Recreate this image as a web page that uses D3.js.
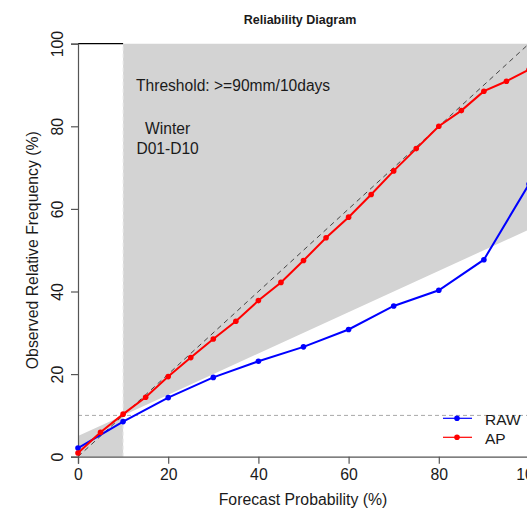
<!DOCTYPE html>
<html>
<head>
<meta charset="utf-8">
<script src="https://cdn.jsdelivr.net/npm/d3@7"></script>
<style>
  html, body { margin: 0; padding: 0; background: #fff; }
  svg { display: block; }
  text { font-family: "Liberation Sans", Arial, sans-serif; fill: #1a1a1a; }
</style>
</head>
<body>
<div id="chart"></div>
<script>
// Forecast probability bins (%) and observed relative frequency (%)
const rawProb = [0, 10, 20, 30, 40, 50, 60, 70, 80, 90, 100];
const rawFreq = [2.1, 8.5, 14.3, 19.2, 23.1, 26.6, 30.8, 36.5, 40.3, 47.7, 66.0];

const apProb = [0, 5, 10, 15, 20, 25, 30, 35, 40, 45, 50, 55, 60, 65, 70, 75, 80, 85, 90, 95, 100];
const apFreq = [0.9, 5.9, 10.3, 14.4, 19.4, 24.0, 28.5, 32.8, 37.8, 42.2, 47.5, 53.0, 58.0, 63.5, 69.2, 74.6, 80.0, 83.8, 88.5, 90.9, 93.7];

const climatology = 10;            // sample climatology (%)
const xTicks = [0, 20, 40, 60, 80, 100];
const yTicks = [0, 20, 40, 60, 80, 100];

const seriesNames = ["RAW", "AP"];
const seriesColors = ["#0000ff", "#ff0000"];

const W = 527, H = 508;
const svg = d3.select("#chart").append("svg").attr("width", W).attr("height", H);

const x = d3.scaleLinear().domain([0, 100]).range([78, 529]);
const y = d3.scaleLinear().domain([0, 100]).range([456.7, 43.7]);

// Skill region: below the no-skill line left of climatology, above it to the right
const noSkill = p => (p + climatology) / 2;
const skillPoly = [
  [0, 0], [0, noSkill(0)], [climatology, climatology], [climatology, 100],
  [100, 100], [100, noSkill(100)], [climatology, climatology], [climatology, 0]
];
svg.append("path")
  .attr("d", d3.line().x(d => x(d[0])).y(d => y(d[1]))(skillPoly) + "Z")
  .attr("fill", "#d3d3d3")
  .attr("stroke", "none");

// Climatology reference lines
svg.append("line")
  .attr("x1", x(climatology)).attr("x2", x(climatology))
  .attr("y1", y(0)).attr("y2", y(100))
  .attr("stroke", "#e8e8e8").attr("stroke-width", 1).attr("stroke-dasharray", "4,3");
svg.append("line")
  .attr("x1", x(0)).attr("x2", x(100))
  .attr("y1", y(climatology)).attr("y2", y(climatology))
  .attr("stroke", "#a8a8a8").attr("stroke-width", 1).attr("stroke-dasharray", "4,3");

// Top edge of the unshaded corner
svg.append("line")
  .attr("x1", x(0)).attr("x2", x(climatology))
  .attr("y1", y(100)).attr("y2", y(100))
  .attr("stroke", "#000").attr("stroke-width", 1.2);

// Perfect-reliability diagonal
svg.append("line")
  .attr("x1", x(0)).attr("y1", y(0))
  .attr("x2", x(100)).attr("y2", y(100))
  .attr("stroke", "#444").attr("stroke-width", 1).attr("stroke-dasharray", "5,4");

// Axes
const xAxis = svg.append("g")
  .attr("transform", `translate(0,${y(0)})`)
  .call(d3.axisBottom(x).tickValues(xTicks).tickSize(7).tickPadding(7).tickFormat(d3.format("d")));
xAxis.selectAll("text").attr("font-size", "15.8px").attr("dy", "0").attr("y", 23.5);

const yAxis = svg.append("g")
  .attr("transform", `translate(${x(0)},0)`)
  .call(d3.axisLeft(y).tickValues(yTicks).tickSize(7).tickFormat(d3.format("d")));
yAxis.selectAll("text")
  .attr("font-size", "15.8px")
  .attr("text-anchor", "middle")
  .attr("transform", "rotate(-90)")
  .attr("x", 0).attr("dy", "0").attr("y", -14.7);

[xAxis, yAxis].forEach(g => {
  g.select(".domain").attr("stroke", "#555").attr("stroke-width", 1.2);
  g.selectAll(".tick line").attr("stroke", "#555").attr("stroke-width", 1.2);
  g.selectAll("text").attr("fill", "#1a1a1a").attr("font-family", "Liberation Sans, Arial, sans-serif");
});

// Series
const series = [
  { name: seriesNames[0], color: seriesColors[0], data: rawProb.map((p, i) => [p, rawFreq[i]]) },
  { name: seriesNames[1], color: seriesColors[1], data: apProb.map((p, i) => [p, apFreq[i]]) }
];
svg.append("clipPath").attr("id", "plotclip")
  .append("rect").attr("x", 0).attr("y", 0).attr("width", W).attr("height", H);

series.forEach(s => {
  const g = svg.append("g").attr("clip-path", "url(#plotclip)");
  g.append("path")
    .attr("d", d3.line().x(d => x(d[0])).y(d => y(d[1]))(s.data))
    .attr("fill", "none").attr("stroke", s.color).attr("stroke-width", 2);
  g.selectAll("circle").data(s.data).join("circle")
    .attr("cx", d => x(d[0])).attr("cy", d => y(d[1])).attr("r", 2.8)
    .attr("fill", s.color);
});

// Legend
const legend = svg.append("g");
series.forEach((s, i) => {
  const ly = 418.3 + i * 19;
  legend.append("line").attr("x1", 443).attr("x2", 472).attr("y1", ly).attr("y2", ly)
    .attr("stroke", s.color).attr("stroke-width", 1.2);
  legend.append("circle").attr("cx", 457).attr("cy", ly).attr("r", 2.8).attr("fill", s.color);
  legend.append("text").attr("x", 485).attr("y", ly + 6.8).attr("font-size", "15.5px").text(s.name);
});

// Annotations
svg.append("text").attr("x", 136).attr("y", 90.5).attr("font-size", "15.6px")
  .text("Threshold: >=90mm/10days");
svg.append("text").attr("x", 167.6).attr("y", 134).attr("font-size", "15.6px")
  .attr("text-anchor", "middle").text("Winter");
svg.append("text").attr("x", 167.6).attr("y", 153.5).attr("font-size", "15.6px")
  .attr("text-anchor", "middle").text("D01-D10");

// Titles
svg.append("text").attr("x", 300).attr("y", 24).attr("font-size", "12.5px")
  .attr("font-weight", "bold").attr("text-anchor", "middle").text("Reliability Diagram");
svg.append("text").attr("x", 303).attr("y", 505).attr("font-size", "15.8px")
  .attr("text-anchor", "middle").text("Forecast Probability (%)");
svg.append("text")
  .attr("transform", `translate(37.5,${(y(0) + y(100)) / 2}) rotate(-90)`)
  .attr("font-size", "15.8px").attr("text-anchor", "middle")
  .text("Observed Relative Frequency (%)");
</script>
</body>
</html>
